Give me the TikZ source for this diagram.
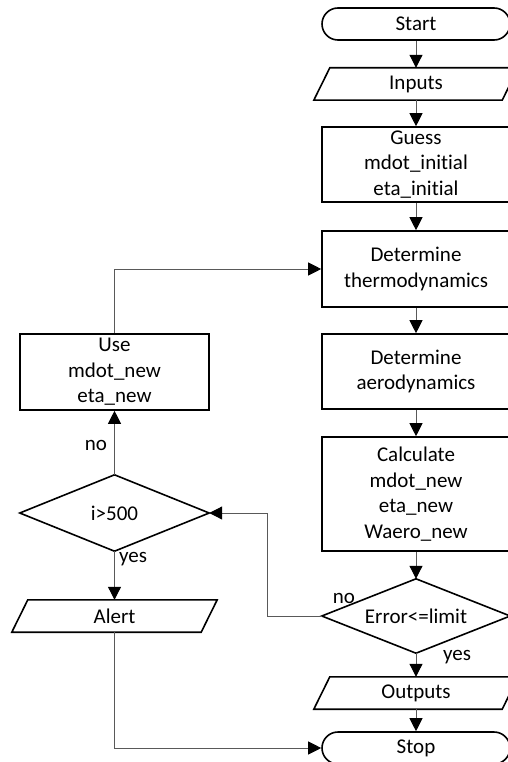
\documentclass[tikz,border=0pt]{standalone}
\usepackage{fontspec}
\setmainfont{Carlito}[RawFeature=-liga]
\usetikzlibrary{shapes.geometric,arrows.meta}
\begin{document}
\begin{tikzpicture}[x=1pt,y=-1pt,
  every node/.style={font=\fontsize{21}{25.5}\selectfont, inner sep=0pt},
  box/.style={draw=black, line width=1.6pt, rectangle, minimum width=188pt, align=center},
  term/.style={box, rounded corners=16pt, minimum height=32pt},
  iobox/.style={rectangle, minimum width=188pt, minimum height=32pt, align=center},
  outl/.style={draw=black, line width=1.6pt},
  dec/.style={rectangle, minimum width=188pt, minimum height=75pt, align=center},
  conn/.style={draw=black!65, line width=1pt, -{Triangle[length=13pt,width=13pt,color=black]}},
  lbl/.style={anchor=base}
]
\useasboundingbox (0,0) rectangle (508,762);
% right column
\node[term] (start) at (416,24) {Start};
\node[iobox] (inputs) at (416,84) {Inputs};
\node[box, minimum height=75pt] (guess) at (416,164.5) {Guess\\mdot\_initial\\eta\_initial};
\node[box, minimum height=76pt] (thermo) at (416,269) {Determine\\thermodynamics};
\node[box, minimum height=75pt] (aero) at (416,371.5) {Determine\\aerodynamics};
\node[box, minimum height=114pt] (calc) at (416,494) {Calculate\\mdot\_new\\eta\_new\\Waero\_new};
\node[dec, minimum height=74pt] (err) at (416,616) {Error<=limit};
\node[iobox] (outputs) at (416,693) {Outputs};
\node[term] (stop) at (416,748) {Stop};
% left column
\node[box, minimum width=189pt, minimum height=76pt] (use) at (114.5,372) {Use\\mdot\_new\\eta\_new};
\node[dec, minimum width=189pt, minimum height=76pt] (ichk) at (114.5,513) {i>500};
\node[iobox, minimum width=189pt] (alert) at (114.5,616) {Alert};
% parallelograms
\foreach \n in {inputs,outputs,alert}{
  \draw[outl] ([xshift=8pt]\n.north west) -- ([xshift=8pt]\n.north east) -- ([xshift=-8pt]\n.south east) -- ([xshift=-8pt]\n.south west) -- cycle;
}
% diamonds
\foreach \n in {err,ichk}{
  \draw[outl] (\n.north) -- (\n.east) -- (\n.south) -- (\n.west) -- cycle;
}
% connectors
\draw[conn] (start) -- (inputs);
\draw[conn] (inputs) -- (guess);
\draw[conn] (guess) -- (thermo);
\draw[conn] (thermo) -- (aero);
\draw[conn] (aero) -- (calc);
\draw[conn] (calc) -- (err);
\draw[conn] (err) -- (outputs);
\draw[conn] (outputs) -- (stop);
\coordinate (c1) at (267,616);
\coordinate (c2) at (267,513);
\draw[conn] (err.west) -- (c1) -- (c2) -- (ichk.east);
\draw[conn] (ichk) -- (use);
\draw[conn] (ichk) -- (alert);
\draw[conn] (use.north) |- (thermo.west);
\draw[conn] (alert.south) |- (stop.west);
% labels
\node[lbl] (lno1) at (96,450) {no};
\node[lbl] (lyes1) at (133,562) {yes};
\node[lbl] (lno2) at (344,603) {no};
\node[lbl] (lyes2) at (457,660) {yes};
\end{tikzpicture}
\end{document}
